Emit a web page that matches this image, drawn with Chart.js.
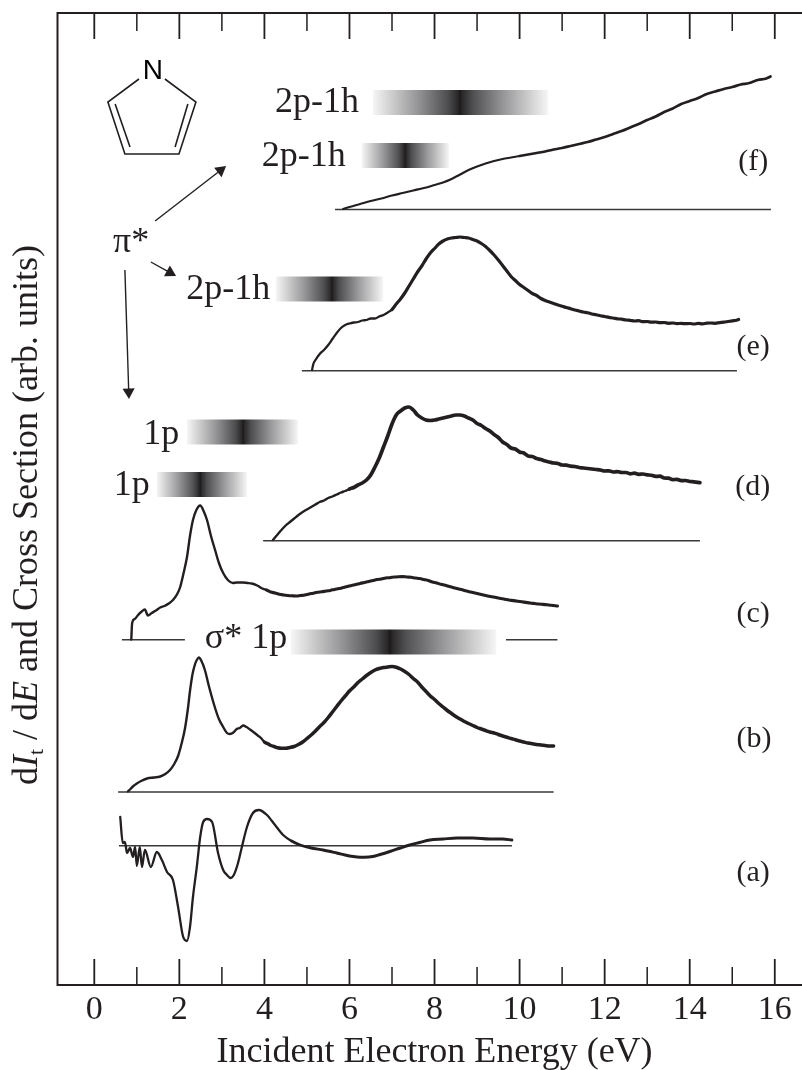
<!DOCTYPE html>
<html><head><meta charset="utf-8">
<style>html,body{margin:0;padding:0;background:#fff}canvas{display:block}</style>
<script src="https://cdn.jsdelivr.net/npm/chart.js@4/dist/chart.umd.min.js"></script>
</head><body><canvas id="c" width="802" height="1070"></canvas>
<script>
const INK='#231f20';
const SERIF='"Liberation Serif","Times New Roman",serif';
// Curves: incident energy (eV) and stacked intensity (arb. units)
const curveFX=[5.85,6.0,6.25,6.5,6.75,7.0,7.25,7.5,7.75,8.0,8.2,8.4,8.6,8.8,9.0,9.2,9.4,9.6,9.8,10.0,10.2,10.4,10.6,10.8,11.0,11.2,11.4,11.6,11.8,12.0,12.2,12.4,12.6,12.8,13.0,13.2,13.4,13.6,13.8,14.0,14.2,14.4,14.6,14.8,15.0,15.2,15.4,15.6,15.8,15.9];
const curveFY=[776,778,781,784,786.5,789.5,792,794.5,797,800,802.5,806,810.5,815,818.5,821.5,824,826,827.5,829,830.5,832,833.5,835.5,837,839,841,843,845.5,848,851,854,857.5,861,865,868.5,873,876.5,881,884,887,891,893.5,896,898,900.5,902,905,906.5,908.5];
const curveEX=[5.12,5.15,5.2,5.3,5.4,5.5,5.6,5.7,5.8,5.9,6.0,6.1,6.2,6.3,6.4,6.5,6.6,6.7,6.8,6.9,7.0,7.1,7.2,7.3,7.4,7.5,7.6,7.7,7.8,7.9,8.0,8.1,8.2,8.3,8.4,8.5,8.6,8.7,8.8,8.9,9.0,9.1,9.2,9.3,9.4,9.5,9.6,9.7,9.8,9.9,10.0,10.1,10.2,10.3,10.4,10.5,10.6,10.7,10.8,10.9,11.0,11.1,11.2,11.3,11.4,11.5,11.6,11.7,11.8,11.9,12.0,12.1,12.2,12.3,12.4,12.5,12.6,12.7,12.8,12.9,13.0,13.1,13.2,13.3,13.4,13.5,13.6,13.7,13.8,13.9,14.0,14.1,14.2,14.3,14.4,14.5,14.6,14.7,14.8,14.9,15.0,15.1,15.15];
const curveEY=[615,621,625,631,635,640,646,652,657,660,661.5,662.5,663,664.5,665,666.5,666.5,668.5,670,672.5,675.5,681,686,692,699,706,713,719,726,732,736.5,741,744,746,747,747.5,748,747.5,747,745.5,744,741.5,738.5,734.5,730,725,719.5,714,708.5,704.5,700.5,697.5,694.5,691.5,689.5,686.5,684.5,683,681.5,680,678.8,677.5,676.3,675,674,673,672.3,671,670.3,669.2,668.5,667.6,667,666.2,665.8,665,664.7,664,664.3,663.4,663.5,662.8,663,662.3,662.5,661.7,662,661.4,661.6,661.3,661.5,661,661.6,661.2,661.8,662,661.7,662.4,662.8,663.5,664.2,664.8,665.5];
const curveDX=[4.2,4.3,4.4,4.5,4.6,4.7,4.8,4.9,5.0,5.1,5.2,5.3,5.4,5.5,5.6,5.7,5.8,5.9,6.0,6.1,6.2,6.3,6.4,6.5,6.6,6.7,6.8,6.9,7.0,7.1,7.2,7.3,7.4,7.5,7.6,7.7,7.8,7.9,8.0,8.1,8.2,8.3,8.4,8.5,8.6,8.7,8.8,8.9,9.0,9.1,9.2,9.3,9.4,9.5,9.6,9.7,9.8,9.9,10.0,10.1,10.2,10.3,10.4,10.5,10.6,10.7,10.8,10.9,11.0,11.1,11.2,11.3,11.4,11.5,11.6,11.7,11.8,11.9,12.0,12.1,12.2,12.3,12.4,12.5,12.6,12.7,12.8,12.9,13.0,13.1,13.2,13.3,13.4,13.5,13.6,13.7,13.8,13.9,14.0,14.1,14.24];
const curveDY=[445,450,455,459.5,463,466.5,470,473,475.5,478,480.5,483,484.5,487,488.5,490.5,492.5,494,496,497.5,500,502,505,510,518,527,538,549,561,570,574,577,578,575,570,567,565,564.5,565,566,567,568,569,570,570,569,567,565,561.5,559.5,556.5,554,550.5,547.5,543,540.5,537,536,533,532,529,528.5,526.5,525.5,524,523,522,521.5,520,519.8,518.8,518.5,517.5,517,516.5,516,515.5,515,514,514.2,513,513.4,512.5,512.5,511.2,511.8,510.7,511,510.2,509.7,508.6,508.8,507,506.8,505.4,505.6,504.4,504.5,503.5,503.2,502.3];
const curveCX=[0.87,0.89,0.95,1.03,1.1,1.19,1.26,1.35,1.45,1.55,1.65,1.75,1.85,1.95,2.02,2.1,2.18,2.25,2.32,2.4,2.49,2.58,2.65,2.75,2.84,2.93,3.03,3.14,3.26,3.35,3.49,3.6,3.7,3.83,3.95,4.05,4.15,4.25,4.35,4.45,4.55,4.65,4.75,4.85,4.95,5.05,5.15,5.25,5.35,5.45,5.55,5.65,5.75,5.85,5.95,6.05,6.15,6.25,6.35,6.45,6.55,6.65,6.75,6.85,6.95,7.05,7.15,7.25,7.35,7.45,7.55,7.65,7.75,7.85,7.95,8.05,8.15,8.25,8.35,8.45,8.55,8.65,8.75,8.85,8.95,9.05,9.15,9.25,9.35,9.45,9.55,9.65,9.75,9.85,9.95,10.05,10.15,10.25,10.35,10.45,10.55,10.65,10.75,10.89];
const curveCY=[345.5,362,366,370,373,375.5,369.5,372,374.5,377.5,379,381.5,385,391,398,412,428,449,465,475,479.5,473,465,448,435,422,412,405,402,402.5,402.5,402,401.5,399.5,396.5,395,393,392,390.7,390,389.5,389.2,389,389.5,390,391,391.8,392.7,393.2,394,394.6,395.6,396.4,397.4,398.4,399.5,400.4,401.6,402.5,403.5,404.5,405.5,406,407,407.3,408,408.3,408.4,408,407.7,407,406.5,405.5,404.5,403,402,400.7,399.7,398.4,397.3,396.2,395.2,394,393,392,391,390,389,388.2,387.4,386.6,385.8,385,384.4,383.8,383.2,382.6,382,381.5,381,380.6,380.2,379.8,379];
const curveBX=[0.79,0.85,0.92,1.0,1.1,1.24,1.4,1.55,1.67,1.78,1.88,1.97,2.05,2.13,2.2,2.25,2.31,2.37,2.41,2.46,2.52,2.6,2.7,2.84,2.93,3.03,3.12,3.19,3.27,3.35,3.42,3.5,3.58,3.66,3.74,3.83,3.92,4.0,4.07,4.15,4.23,4.31,4.4,4.5,4.6,4.7,4.8,4.9,5.0,5.1,5.2,5.3,5.4,5.5,5.6,5.7,5.8,5.9,6.0,6.1,6.2,6.3,6.4,6.5,6.6,6.7,6.8,6.9,7.0,7.1,7.2,7.3,7.4,7.5,7.6,7.7,7.8,7.9,8.0,8.1,8.2,8.3,8.4,8.5,8.6,8.7,8.8,8.9,9.0,9.1,9.2,9.3,9.4,9.5,9.6,9.7,9.8,9.9,10.0,10.1,10.2,10.3,10.4,10.5,10.6,10.7,10.8];
const curveBY=[193.5,196,199,201.5,204,206.5,207.5,208.5,211,215,221,229,241,256,276,294,311,321,325,327.5,324,315,298,277,266,258,252,251,252.5,256,257,259.5,258,255.5,253,250,247,243,241.5,239.5,238.5,237.3,236.8,236.8,237.5,238.5,240.5,243,246.5,250,254,258.5,262.5,267.5,273,278.5,284,289,294,298,302.5,306,309.5,312.5,315,316.5,317.5,318,318.5,317.8,316,313.5,310.5,306.5,303,298,293.5,289,285.5,281.5,278,274.5,271.5,268.5,266,263.5,261.5,259.5,257.5,256,254.5,253,252,250.5,249,247.8,246.5,245.3,244,243,242,241.2,240.5,240,239.5,239,239];
const curveAX=[0.61,0.67,0.72,0.77,0.84,0.91,0.96,1.0,1.07,1.12,1.19,1.33,1.47,1.59,1.71,1.85,1.97,2.09,2.18,2.25,2.32,2.41,2.49,2.56,2.65,2.77,2.91,3.03,3.12,3.21,3.28,3.38,3.47,3.59,3.73,3.87,4.06,4.25,4.44,4.64,4.84,5.1,5.38,5.7,6.0,6.18,6.35,6.55,6.72,6.95,7.2,7.42,7.65,7.89,8.2,8.53,8.9,9.3,9.6,9.82];
const curveAY=[168,142,143,132,137,128,138,119,138,118,135,118,133,125,113,105,78,48,44,58,88,118,148,163,166,163,132,115,110,107,110,122,138,158,172,175,170,160,150,144,140,137,135,132,129,128,127.8,128.5,130.5,133.5,137,140,142.5,145,146,147,147,146,146,145];
// Energy above which each curve looks thicker (noise), and the two widths
const curveThin=[2.2,2.3,2.4,2.4,2.4,2.3];
const curveThick=[2.7,3.2,3.7,3.1,3.5,2.9];
const curveNoiseFrom=[10,7,6,4,4,4.5];
// Zero / baseline levels for each curve
const baselineX0=[5.66,4.88,3.97,0.65,9.68,0.56,0.58];
const baselineX1=[15.91,15.11,14.24,2.13,10.89,10.8,9.82];
const baselineY=[775.5,614.3,444.3,345.3,345.3,193,139.3];
// Resonance bands (start, peak, end in eV, and level)
const bandStart=[6.55,6.29,4.27,2.18,1.47,4.62];
const bandPeak=[8.60,7.31,5.59,3.50,2.49,6.95];
const bandEnd=[10.67,8.34,6.79,4.79,3.59,9.45];
const bandLevel=[882.5,829.5,696,553,500.5,343];
// Annotation text
const noteText=['2p-1h','2p-1h','2p-1h','1p','1p','σ* 1p','π*'];
const noteX=[4.25,3.94,2.16,1.15,0.46,2.60,0.44];
const noteY=[873,819,686,541,490,337,733];
const panelText=['(f)','(e)','(d)','(c)','(b)','(a)'];
const panelX=[15.14,15.1,15.07,15.1,15.1,15.1];
const panelY=[815,630,490,363,238,104];
// Pyrrole bonds and arrows (eV, arb. units)
const bondX=[[1.05,0.32,0.72,1.99,2.39,1.66],[0.49,0.84],[2.20,1.90]];
const bondY=[[906,883,831,831,883,906],[881,838],[881,838]];
const arrowX=[[1.43,2.97],[1.33,1.78],[0.72,0.81]];
const arrowY=[[764,814.7],[723,712.4],[715,593]];
const arrowAngle=[52,119,178];
const xMajor=[0,2,4,6,8,10,12,14,16];
const xMinorAll=[1,3,5,7,9,11,13,15];

const zip=(a,b)=>a.map((v,i)=>({x:v,y:b[i]}));
const datasets=[];
[[curveFX,curveFY],[curveEX,curveEY],[curveDX,curveDY],[curveCX,curveCY],[curveBX,curveBY],[curveAX,curveAY]].forEach((c,k)=>{
  datasets.push({data:zip(c[0],c[1]),borderColor:INK,borderWidth:curveThin[k],pointRadius:0,cubicInterpolationMode:'monotone',borderJoinStyle:'round',borderCapStyle:'round',
    segment:{borderWidth:s=>s.p0.parsed.x>=curveNoiseFrom[k]?curveThick[k]:curveThin[k]}});
});
baselineY.forEach((y,i)=>datasets.push({data:[{x:baselineX0[i],y},{x:baselineX1[i],y}],borderColor:'#3a3839',borderWidth:1.5,pointRadius:0}));
bandLevel.forEach((y,i)=>datasets.push({
  data:[{x:bandStart[i],y},{x:bandEnd[i],y}],pointRadius:0,borderWidth:25,borderCapStyle:'butt',
  borderColor(ctx){
    const sx=ctx.chart.scales.x; if(!sx) return '#888';
    const a=sx.getPixelForValue(bandStart[i]),b=sx.getPixelForValue(bandEnd[i]),p=sx.getPixelForValue(bandPeak[i]);
    if(!isFinite(a)||!isFinite(b)||!isFinite(p)||b<=a) return '#888';
    const g=ctx.chart.ctx.createLinearGradient(a,0,b,0),w=b-a,pk=(p-a)/w;
    g.addColorStop(0,'#f6f6f6');g.addColorStop(pk*0.5,'#98989a');g.addColorStop(pk*0.85,'#505052');
    g.addColorStop(Math.max(0,pk-0.012),'#2a2829');g.addColorStop(pk,'#1b191a');g.addColorStop(Math.min(1,pk+0.012),'#2a2829');
    g.addColorStop(pk+(1-pk)*0.15,'#505052');g.addColorStop(pk+(1-pk)*0.5,'#98989a');g.addColorStop(1,'#f6f6f6');
    return g;
  }
}));
bondX.forEach((xs,i)=>datasets.push({data:zip(xs,bondY[i]),borderColor:INK,borderWidth:1.6,pointRadius:0,borderJoinStyle:'miter'}));
arrowX.forEach((xs,i)=>datasets.push({data:zip(xs,arrowY[i]),borderColor:INK,backgroundColor:INK,borderWidth:1.4,
  pointRadius:[0,7],pointStyle:'triangle',pointRotation:arrowAngle[i],pointBorderWidth:0}));

const page={
  id:'page',
  afterDatasetsDraw(chart){
    const {ctx,chartArea:a,scales:{x,y}}=chart;
    ctx.save();
    ctx.strokeStyle=INK;ctx.fillStyle=INK;
    // frame
    ctx.lineWidth=2;ctx.beginPath();
    ctx.moveTo(a.right,a.top);ctx.lineTo(a.left,a.top);ctx.lineTo(a.left,a.bottom);ctx.lineTo(a.right,a.bottom);ctx.stroke();
    // inward ticks
    const tick=(v,len,w)=>{const p=x.getPixelForValue(v);ctx.lineWidth=w;ctx.beginPath();
      ctx.moveTo(p,a.top);ctx.lineTo(p,a.top+len);ctx.moveTo(p,a.bottom);ctx.lineTo(p,a.bottom-len);ctx.stroke();};
    xMajor.forEach(v=>tick(v,26,1.8));xMinorAll.forEach(v=>tick(v,18,1.5));
    // notes
    ctx.textAlign='left';ctx.textBaseline='alphabetic';
    ctx.font='36px '+SERIF;
    noteText.forEach((t,i)=>ctx.fillText(t,x.getPixelForValue(noteX[i]),y.getPixelForValue(noteY[i])));
    ctx.font='30px '+SERIF;
    panelText.forEach((t,i)=>ctx.fillText(t,x.getPixelForValue(panelX[i]),y.getPixelForValue(panelY[i])));
    ctx.font='28px "Liberation Sans",Arial,sans-serif';ctx.textAlign='center';ctx.textBaseline='middle';
    ctx.fillStyle='#000';ctx.fillText('N',x.getPixelForValue(1.38),y.getPixelForValue(914));
    ctx.fillStyle=INK;
    // x title
    ctx.font='36px '+SERIF;ctx.textAlign='center';ctx.textBaseline='alphabetic';
    ctx.fillText('Incident Electron Energy (eV)',x.getPixelForValue(8.0),1062);
    // y title with italic and subscript runs
    const runs=[['d','36px',0],['I','italic 36px',0],['t','22px',6],[' / d','36px',0],['E','italic 36px',0],[' and Cross Section (arb. units)','36px',0]];
    let total=0;runs.forEach(r=>{ctx.font=r[1]+' '+SERIF;total+=ctx.measureText(r[0]).width;});
    ctx.translate(37,515);ctx.rotate(-Math.PI/2);ctx.textAlign='left';
    let cx=-total/2;
    runs.forEach(r=>{ctx.font=r[1]+' '+SERIF;ctx.fillText(r[0],cx,r[2]);cx+=ctx.measureText(r[0]).width;});
    ctx.restore();
  }
};

new Chart(document.getElementById('c'),{
  type:'line',
  data:{datasets},
  plugins:[page],
  options:{
    responsive:false,animation:false,
    layout:{autoPadding:false,padding:{left:57.5,top:13,right:0,bottom:0}},
    plugins:{legend:{display:false},tooltip:{enabled:false},title:{display:false}},
    scales:{
      x:{type:'linear',min:-0.865,max:16.64,
        afterFit(s){s.height=85;s.paddingLeft=0;s.paddingRight=0;},
        grid:{display:false,drawTicks:false},border:{display:false},
        ticks:{stepSize:1,autoSkip:false,maxRotation:0,includeBounds:false,padding:5,color:INK,
          font:{family:SERIF,size:34},
          callback(v){return Number.isInteger(v)&&v%2===0?String(v):'';}}},
      y:{type:'linear',min:0,max:972,display:false}
    }
  }
});
</script></body></html>
